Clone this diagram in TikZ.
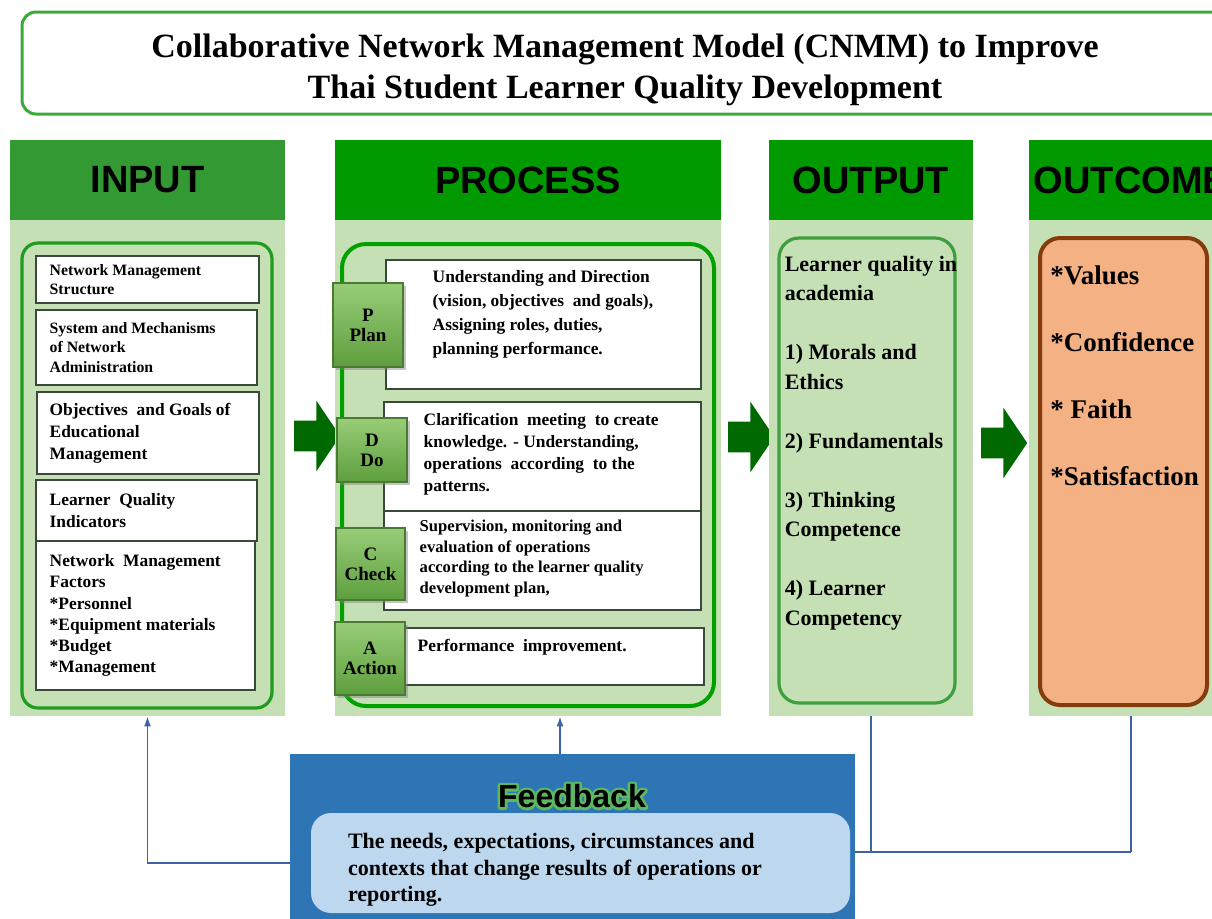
\documentclass[tikz,border=0pt]{standalone}
\usepackage{fontspec}
\setmainfont{Liberation Serif}
\newfontfamily\hdrfont{Liberation Sans}
\usetikzlibrary{positioning,fit,shapes.arrows,shadows,arrows.meta}

\definecolor{titlegreen}{HTML}{3AAA35}
\definecolor{hdrdark}{HTML}{339933}
\definecolor{hdrgreen}{HTML}{009900}
\definecolor{colbg}{HTML}{C5E0B4}
\definecolor{inframe}{HTML}{1F9C1F}
\definecolor{procframe}{HTML}{00A000}
\definecolor{outframe}{HTML}{3E9F3E}
\definecolor{boxline}{HTML}{3A4A3A}
\definecolor{pdcatop}{HTML}{98CD78}
\definecolor{pdcabot}{HTML}{5E9E3E}
\definecolor{pdcaline}{HTML}{4A7A33}
\definecolor{arrowgreen}{HTML}{006A00}
\definecolor{ocfill}{HTML}{F4B183}
\definecolor{ocline}{HTML}{843C0C}
\definecolor{fbblue}{HTML}{2E75B6}
\definecolor{fbinner}{HTML}{BDD7EE}
\definecolor{fbline}{HTML}{3E62A8}

% outlined text (stroke only) for the soft green halo
\newcommand\haloword[1]{\special{pdf:literal direct 1 Tr 1 j 2.6 w 0.36 0.72 0.38 RG}#1\special{pdf:literal direct 0 Tr 1 w}}

\tikzset{
  colbg/.style={fill=colbg, inner sep=0pt},
  hdr/.style={fill=hdrgreen, inner sep=0pt},
  hdrtext/.style={font=\hdrfont\bfseries\fontsize{19}{22}\selectfont, inner sep=0pt},
  frame/.style={line width=1.6pt, rounded corners=8pt, inner sep=0pt},
  wbox/.style={draw=boxline, fill=white, line width=0.7pt, inner sep=0pt},
  intext/.style={font=\bfseries\fontsize{8.7}{11}\selectfont, align=left, anchor=west, inner sep=0pt},
  smallin/.style={font=\bfseries\fontsize{7.9}{9.8}\selectfont},
  pdca/.style={draw=pdcaline, line width=0.6pt, top color=pdcatop, bottom color=pdcabot,
    drop shadow={opacity=0.45, shadow xshift=1.5pt, shadow yshift=-1.5pt}, inner sep=0pt},
  pdcatext/.style={font=\bfseries\fontsize{9.5}{10}\selectfont, align=center, inner sep=0pt},
  bigarrow/.style={single arrow, fill=arrowgreen, inner sep=0pt, inner ysep=7.5pt,
    minimum height=23pt, single arrow head extend=10pt, single arrow tip angle=112},
  fbconn/.style={draw=fbline, line width=0.8pt},
}

\begin{document}
\begin{tikzpicture}[x=0.5pt,y=-0.5pt]
\useasboundingbox (0,0) rectangle (1212,918);
\clip (0,0) rectangle (1212,918);

% title
\node[draw=titlegreen, line width=1.5pt, rounded corners=7pt, inner sep=0pt, fit={(22,12) (1260,114)}] (titlebox) {};
\node[font=\bfseries\fontsize{17}{20.5}\selectfont, align=center] (title) at (625,70)
  {Collaborative Network Management Model (CNMM) to Improve\\Thai Student Learner Quality Development};

% INPUT
\node[colbg, fit={(10,220) (285,716)}] (inbg) {};
\node[hdr, fill=hdrdark, fit={(10,140) (285,220)}] (inhdr) {};
\node[hdrtext] (inhdrt) at (inhdr) {INPUT};
\node[frame, draw=inframe, fit={(22,243) (272,708)}] (infr) {};
\node[wbox, fit={(36,256) (259,303)}] (in1) {};
\node[intext, smallin] (in1t) at ([xshift=7pt]in1.west) {Network Management\\Structure};
\node[wbox, fit={(36,310) (257,385)}] (in2) {};
\node[intext, smallin] (in2t) at ([xshift=7pt]in2.west) {System and Mechanisms\\of Network\\Administration};
\node[wbox, fit={(37,392) (259,474)}] (in3) {};
\node[intext] (in3t) at ([xshift=6.5pt]in3.west) {Objectives~ and Goals of\\Educational\\Management};
\node[wbox, fit={(36,480) (257,541)}] (in4) {};
\node[intext] (in4t) at ([xshift=7pt]in4.west) {Learner~ Quality\\Indicators};
\node[wbox, fit={(36,541) (255,690)}] (in5) {};
\node[intext, font=\bfseries\fontsize{8.7}{10.6}\selectfont] (in5t) at ([xshift=7pt]in5.west)
  {Network~ Management\\Factors\\*Personnel\\*Equipment materials\\*Budget\\*Management};

\node[bigarrow] (arr1) at (312,436) {};

% PROCESS
\node[colbg, fit={(335,220) (721,716)}] (procbg) {};
\node[hdr, fit={(335,140) (721,220)}] (prochdr) {};
\node[hdrtext] (prochdrt) at (prochdr) {PROCESS};
\node[frame, draw=procframe, line width=2pt, rounded corners=12pt, fit={(342,244) (714,706)}] (procfr) {};
\node[wbox, fit={(386,260) (701,389)}] (plan) {};
\node[intext, font=\bfseries\fontsize{8.7}{12}\selectfont] (plant) at ([xshift=23.5pt,yshift=5pt]plan.west)
  {Understanding and Direction\\(vision, objectives~ and goals),\\Assigning roles, duties,\\planning performance.};
\node[wbox, fit={(384,402) (701,511)}] (do) {};
\node[intext] (dot) at ([xshift=20pt,yshift=1pt]do.west)
  {Clarification~ meeting~ to create\\knowledge. - Understanding,\\operations~ according~ to the\\patterns.};
\node[wbox, fit={(384,511) (701,610)}] (check) {};
\node[intext, font=\bfseries\fontsize{8.3}{10.3}\selectfont] (checkt) at ([xshift=18pt,yshift=1pt]check.west)
  {Supervision, monitoring and\\evaluation of operations\\according to the learner quality\\development plan,};
\node[wbox, fit={(405,628) (704,685)}] (act) {};
\node[intext] (actt) at ([xshift=6.5pt,yshift=4.75pt]act.west) {Performance~ improvement.};
\node[pdca, fit={(333,283) (403,367)}] (sqP) {};
\node[pdcatext] (sqPt) at (sqP) {P\\Plan};
\node[pdca, fit={(337,418) (407,482)}] (sqD) {};
\node[pdcatext] (sqDt) at (sqD) {D\\Do};
\node[pdca, fit={(336,528) (405,600)}] (sqC) {};
\node[pdcatext] (sqCt) at (sqC) {C\\Check};
\node[pdca, fit={(335,622) (405,695)}] (sqA) {};
\node[pdcatext] (sqAt) at (sqA) {A\\Action};

\node[bigarrow] (arr2) at (746,437) {};

% OUTPUT
\node[colbg, fit={(769,220) (973,716)}] (outbg) {};
\node[hdr, fit={(769,140) (973,220)}] (outhdr) {};
\node[hdrtext] (outhdrt) at (outhdr) {OUTPUT};
\node[frame, draw=outframe, rounded corners=10pt, fit={(779,238) (955,703)}] (outfr) {};
\node[font=\bfseries\fontsize{11}{14.75}\selectfont, align=left, anchor=north west, inner sep=0pt] (outlist)
  at ([xshift=3.5pt,yshift=-9.5pt]outfr.north west)
  {Learner quality in\\academia\\[14.75pt]1) Morals and\\Ethics\\[14.75pt]2) Fundamentals\\[14.75pt]3) Thinking\\Competence\\[14.75pt]4) Learner\\Competency};

\node[bigarrow] (arr3) at (999,443) {};

% OUTCOME
\node[colbg, fit={(1029,220) (1233,716)}] (ocbg) {};
\node[hdr, fit={(1029,140) (1233,220)}] (ochdr) {};
\node[hdrtext] (ochdrt) at (ochdr) {OUTCOME};
\node[frame, draw=ocline, fill=ocfill, line width=2pt, rounded corners=10pt, fit={(1040,238) (1207,705)}] (ocfr) {};
\node[font=\bfseries\fontsize{13.5}{16}\selectfont, align=left, anchor=north west, inner sep=0pt] (oclist)
  at ([xshift=6pt,yshift=-14.5pt]ocfr.north west)
  {*Values\\[17.5pt]*Confidence\\[17.5pt]* Faith\\[17.5pt]*Satisfaction};

% feedback
\node[fill=fbblue, inner sep=0pt, fit={(290,754) (855,930)}] (fbbox) {};
\node[font=\hdrfont\bfseries\fontsize{16}{18}\selectfont, inner sep=0pt] (fbtitle) at (572,796)
  {\rlap{\haloword{Feedback}}Feedback};
\node[fill=fbinner, rounded corners=10pt, inner sep=0pt, fit={(311,813) (850,913)}] (fbin) {};
\node[intext, font=\bfseries\fontsize{11}{13.25}\selectfont] (fbtext) at ([xshift=18.5pt,yshift=-3.5pt]fbin.west)
  {The needs, expectations, circumstances and\\contexts that change results of operations or\\reporting.};

\draw[fbconn,-{Latex[length=5pt,width=3.5pt]}] (fbbox.west |- fbin.west) -| (inbg.south);
\draw[fbconn,-{Latex[length=5pt,width=3.5pt]}] ([xshift=-6.25pt]fbbox.north) -- ([xshift=-6.25pt]fbbox.north |- procbg.south);
\coordinate (fbright) at ([yshift=5.5pt]fbbox.east |- fbin.east);
\draw[fbconn] (fbright) -- (fbright -| ocbg.south);
\draw[fbconn] (outbg.south) -- (outbg.south |- fbright);
\draw[fbconn] (ocbg.south) -- (ocbg.south |- fbright);
\end{tikzpicture}
\end{document}
